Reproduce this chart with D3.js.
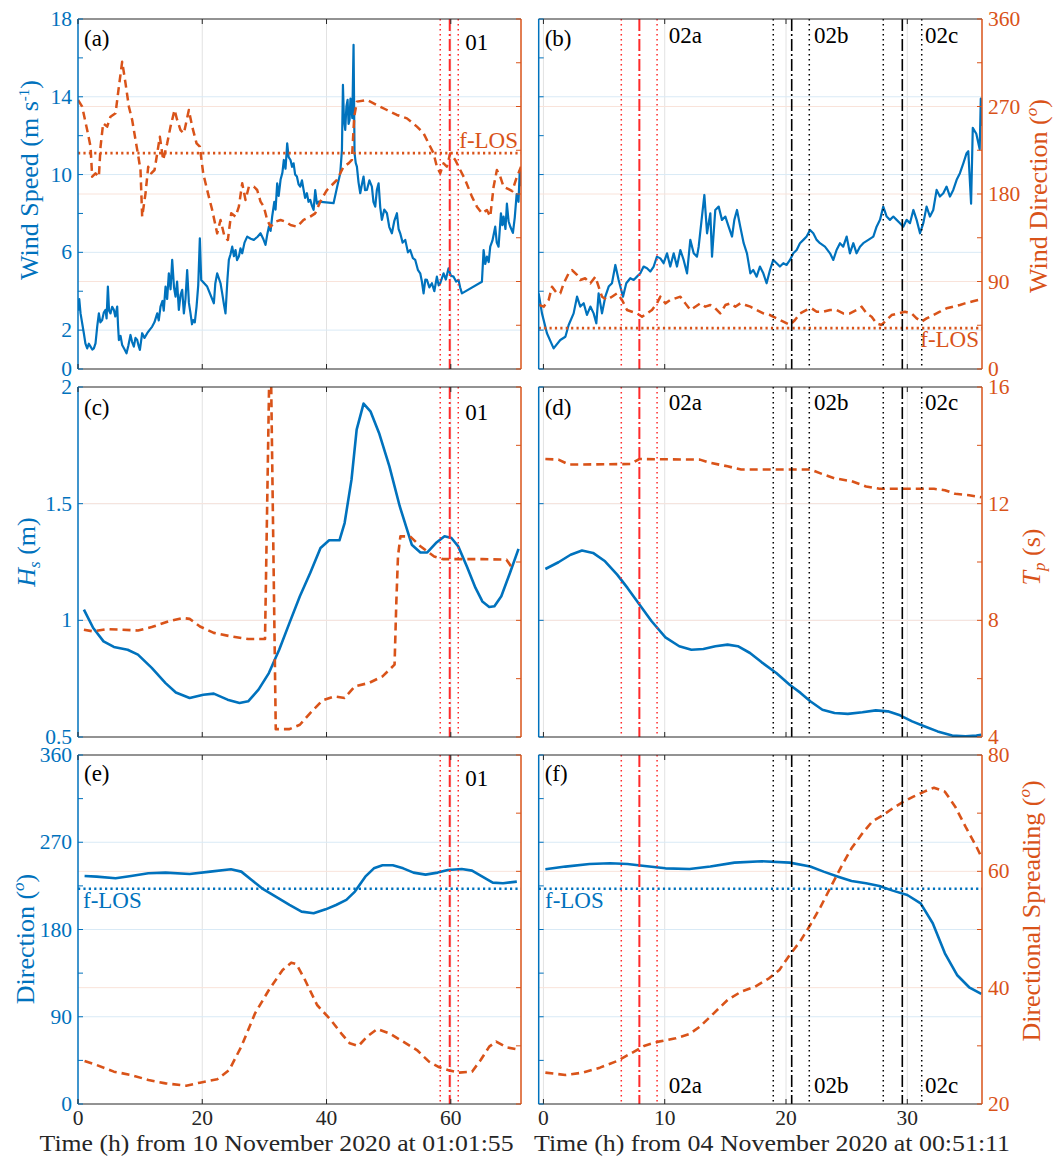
<!DOCTYPE html>
<html><head><meta charset="utf-8">
<script src="https://cdn.jsdelivr.net/npm/d3@7"></script>
<style>
body{margin:0;background:#fff;}
</style></head><body>
<svg id="chart" width="1062" height="1157"></svg>
<script>
// ---------------- DATA ----------------
// Panel (a): wind speed (m/s) and wind direction (deg) vs time (h) from 10 Nov 2020 01:01:55
const windSpeedLeft = [[0,3.0],[0.2,3.6],[0.41,2.86],[0.7,2.3],[0.94,1.84],[1.2,1.3],[1.48,1.06],[1.75,1.3],[2.02,1.15],[2.3,1.0],[2.55,1.06],[2.82,1.32],[3.1,2.2],[3.36,2.86],[3.6,2.4],[3.89,2.52],[4.15,2.9],[4.43,3.04],[4.6,2.6],[4.81,4.24],[5.0,3.0],[5.23,2.86],[5.5,3.2],[5.77,3.04],[6.0,2.7],[6.31,3.21],[6.45,2.2],[6.58,1.49],[6.85,1.7],[7.11,1.23],[7.5,1.0],[7.81,0.81],[8.1,1.2],[8.45,1.75],[8.7,1.4],[8.99,1.15],[9.25,1.6],[9.53,1.49],[9.75,1.2],[9.96,0.98],[10.33,1.84],[10.7,1.6],[11.14,1.84],[11.5,2.0],[11.94,2.18],[12.3,2.4],[12.75,2.86],[13.0,2.5],[13.28,3.21],[13.6,3.5],[13.8,3.0],[14.09,4.24],[14.35,3.6],[14.62,4.92],[14.9,4.1],[15.16,5.61],[15.45,4.2],[15.7,3.72],[15.95,4.5],[16.23,3.04],[16.5,3.8],[16.77,4.07],[17.04,2.86],[17.3,3.6],[17.57,5.09],[17.85,3.4],[18.11,2.86],[18.35,2.3],[18.54,2.52],[18.8,2.4],[19.08,3.21],[19.35,4.3],[19.61,6.72],[19.83,4.58],[20.79,4.24],[21.87,3.38],[22.1,4.4],[22.4,4.92],[22.94,4.41],[23.21,3.89],[23.5,3.3],[23.74,2.86],[24.05,4.6],[24.28,5.61],[24.55,5.9],[24.82,6.29],[25.1,5.8],[25.35,6.12],[25.6,5.6],[25.89,5.78],[26.15,6.2],[26.43,5.95],[26.8,6.5],[27.23,6.81],[27.8,6.7],[28.3,6.64],[28.9,6.8],[29.38,6.98],[29.8,6.7],[30.18,6.38],[30.45,6.9],[30.72,7.32],[31.0,7.1],[31.25,7.84],[31.6,8.6],[31.8,8.2],[32.06,9.55],[32.3,8.9],[32.6,9.73],[32.9,10.1],[33.13,10.75],[33.4,10.3],[33.67,11.61],[33.9,10.9],[34.2,10.75],[34.45,10.4],[34.7,10.58],[34.95,10.0],[35.23,9.9],[35.5,9.5],[35.77,9.38],[36.05,9.7],[36.31,9.21],[36.55,8.8],[36.84,9.04],[37.1,8.6],[37.38,8.7],[37.65,8.4],[37.92,8.18],[38.18,9.2],[38.45,8.5],[38.72,8.61],[41.13,8.53],[41.8,9.5],[42.21,10.07],[42.48,11.27],[42.64,14.61],[42.8,12.9],[43.01,12.3],[43.2,13.5],[43.39,13.84],[43.55,12.6],[43.71,12.81],[43.85,13.9],[43.98,13.5],[44.15,12.9],[44.35,16.67],[44.51,11.1],[44.7,10.6],[44.89,10.41],[45.15,9.6],[45.43,9.04],[45.7,9.5],[45.96,9.9],[46.2,9.2],[46.5,9.21],[46.9,9.7],[47.3,9.38],[47.55,8.6],[47.84,8.35],[48.1,9.2],[48.38,9.55],[48.65,8.3],[48.91,7.67],[49.3,8.2],[49.72,8.01],[50.1,7.3],[50.52,6.98],[50.9,7.6],[51.33,8.01],[51.6,7.2],[51.86,6.98],[52.25,6.5],[52.67,6.64],[53.1,6.0],[53.47,6.12],[53.9,5.7],[54.28,5.61],[54.7,5.1],[55.08,4.92],[55.35,4.5],[55.62,3.89],[55.9,4.6],[56.16,4.58],[56.55,4.2],[56.96,4.41],[57.35,4.0],[57.76,4.75],[58.05,4.3],[58.3,4.41],[58.6,4.7],[58.84,4.92],[59.2,4.6],[59.64,5.18],[60.0,4.8],[60.45,4.75],[60.85,4.5],[61.25,4.58],[61.5,4.2],[61.79,3.89],[65.01,4.49],[65.28,6.12],[65.55,5.4],[65.81,5.78],[66.1,5.5],[66.35,6.29],[66.7,6.6],[67.15,7.32],[67.4,6.5],[67.69,6.29],[68.07,8.01],[68.3,7.4],[68.5,7.84],[68.8,7.2],[69.03,8.5],[69.3,7.6],[69.6,7.3],[70.0,7.0],[70.3,7.8],[70.6,9.0],[70.9,8.6],[71.1,10.2],[71.3,9.4]];
const windDirLeft = [[0,276.7],[0.67,269.8],[1.48,245.8],[2.02,228.7],[2.28,197.8],[2.82,201.3],[3.36,197.8],[3.63,228.7],[4.05,252.7],[4.7,249.3],[5.23,259.5],[6.04,263],[6.58,290.4],[7.11,316.1],[7.65,293.8],[8.19,269.8],[8.72,256.1],[9.26,235.5],[9.63,221.8],[10.06,204.7],[10.33,156.7],[10.87,180.7],[11.3,208.1],[11.78,201.3],[12.32,204.7],[12.75,221.8],[13.17,239],[13.71,215],[14.36,232.1],[14.89,249.3],[15.54,266.4],[15.96,256.1],[16.5,245.8],[17.04,242.4],[17.84,266.4],[18.38,249.3],[19.08,232.1],[19.61,228.7],[20.15,201.3],[20.79,184.1],[21.6,163.5],[22.4,139.5],[22.94,153.3],[23.58,136.1],[24.12,132.7],[24.66,160.1],[25.35,156.7],[25.89,167],[26.43,191],[26.96,173.8],[27.5,187.5],[28.3,187.5],[28.84,184.1],[29.38,172.1],[29.91,167],[30.45,153.3],[30.99,146.4],[31.79,151.5],[32.6,153.3],[33.4,151.5],[34.2,148.1],[35.23,146.4],[36.31,153.3],[37.38,156.7],[38.18,160.1],[38.99,172.1],[40.06,184.1],[41.67,194.4],[42.74,208.1],[43.55,211.5],[44.08,215],[44.46,259.5],[44.89,275],[46.5,276.7],[48.11,271.5],[49.72,266.4],[51.33,261.3],[52.94,257.8],[54.55,249.3],[55.62,242.4],[56.42,232.1],[57.23,221.8],[57.76,208.1],[58.3,201.3],[58.84,211.5],[59.37,208.1],[59.91,221.8],[60.72,215],[61.52,204.7],[62.33,194.4],[63.4,177.3],[64.2,167],[65.01,160.1],[65.81,163.5],[66.35,156.7],[66.89,187.5],[67.42,204.7],[67.96,197.8],[68.5,187.5],[69.3,185],[69.9,183],[70.5,195],[71.3,208]];

// Panel (b): wind speed and direction vs time (h) from 04 Nov 2020 00:51:11
const windSpeedRight = [[-0.39,3.89],[-0.12,2.86],[0.29,1.84],[0.84,1.06],[1.39,1.49],[1.81,1.66],[2.08,2.26],[2.49,2.86],[2.77,3.72],[3.04,3.21],[3.32,3.38],[3.59,2.78],[3.87,3.21],[4.14,2.86],[4.36,2.35],[4.55,3.89],[4.83,2.86],[5.1,3.72],[5.38,4.24],[5.65,4.41],[5.93,5.35],[6.2,4.58],[6.56,3.72],[6.83,4.41],[7.16,4.67],[7.44,4.58],[7.71,4.75],[7.99,4.92],[8.26,5.27],[8.54,5.18],[8.81,5.01],[9.09,5.27],[9.36,5.78],[9.64,5.69],[9.91,5.44],[10.19,5.95],[10.46,5.27],[10.74,5.95],[11.01,5.27],[11.29,6.12],[11.56,5.61],[11.84,4.92],[12.11,6.64],[12.39,5.95],[12.66,5.78],[12.8,6.29],[13.07,7.84],[13.27,8.95],[13.49,6.98],[13.76,8.01],[13.9,5.78],[14.17,8.18],[14.45,8.35],[14.72,7.67],[15.0,7.84],[15.27,7.32],[15.55,6.81],[15.74,7.67],[15.96,8.18],[16.23,7.32],[16.51,6.47],[16.78,5.95],[17.06,4.92],[17.3,5.09],[17.58,4.75],[17.85,5.27],[18.13,4.92],[18.4,4.41],[18.68,5.09],[18.95,5.61],[19.23,5.44],[19.5,5.27],[19.78,5.44],[20.05,5.35],[20.33,5.61],[20.6,5.95],[20.88,6.12],[21.15,6.47],[21.43,6.64],[21.7,6.81],[21.98,7.15],[22.25,6.98],[22.53,6.64],[22.8,6.47],[23.21,6.29],[23.63,5.95],[23.9,5.61],[24.17,6.12],[24.45,6.47],[24.72,6.29],[25.0,6.81],[25.27,5.95],[25.55,6.47],[25.82,5.95],[26.1,6.29],[26.37,6.47],[26.79,6.64],[27.2,6.81],[27.47,7.32],[27.75,7.67],[28.02,8.35],[28.3,7.84],[28.57,7.67],[28.85,7.84],[29.12,7.67],[29.4,7.5],[29.67,7.32],[29.95,7.67],[30.22,7.5],[30.5,8.18],[30.77,7.67],[31.05,6.98],[31.32,7.5],[31.59,8.35],[31.87,7.84],[32.14,8.18],[32.42,9.21],[32.69,8.87],[32.97,9.04],[33.24,9.38],[33.52,8.87],[33.79,9.21],[34.07,9.73],[34.34,10.07],[34.62,10.58],[34.89,11.1],[35.03,11.2],[35.26,8.5],[35.4,12.4],[35.69,12.1],[35.97,11.3],[36.06,13.9],[36.16,12.5]];
const windDirRight = [[-0.39,66],[0.02,64.1],[0.43,71.0],[0.71,84.7],[1.12,77.8],[1.39,77.8],[1.67,88.1],[2.08,98.4],[2.36,101.8],[2.77,96.7],[3.04,91.5],[3.45,93.3],[3.87,88.1],[4.28,94.9],[4.55,84.7],[4.83,74.4],[5.24,71.0],[5.65,74.4],[6.07,77.8],[6.48,71.0],[6.89,60.7],[7.3,58.9],[7.71,57.2],[8.13,53.8],[8.54,57.2],[8.95,60.7],[9.36,67.5],[9.64,74.4],[10.05,67.5],[10.46,71.0],[10.87,72.7],[11.29,74.4],[11.7,67.5],[12.11,60.7],[12.52,64.1],[12.94,67.5],[13.35,64.1],[13.76,65.8],[14.17,62.4],[14.58,57.2],[15.0,65.8],[15.41,67.5],[15.82,64.1],[16.23,67.5],[16.65,65.8],[17.06,64.1],[17.58,60.7],[18.13,57.2],[18.68,55.5],[19.23,52.1],[19.78,48.7],[20.33,45.3],[20.74,50.4],[21.15,57.2],[21.7,60.7],[22.11,62.4],[22.53,58.9],[23.08,58.9],[23.63,60.7],[24.17,60.7],[24.72,57.2],[25.27,57.2],[25.82,60.7],[26.24,64.1],[26.65,57.2],[27.06,53.8],[27.47,46.9],[27.88,45.3],[28.3,50.4],[28.71,55.5],[29.26,57.2],[29.81,58.9],[30.36,57.2],[30.77,52.1],[31.18,48.7],[31.59,52.1],[32.14,55.5],[32.69,58.9],[33.24,62.4],[33.79,64.1],[34.34,65.8],[34.75,67.5],[35.5,70],[36.16,72]];

// Panel (c): Hs (m) and Tp (s)
const hsLeft = [[0.95,1.046],[2.45,0.967],[4.11,0.91],[5.77,0.886],[7.99,0.874],[9.65,0.853],[11.87,0.796],[14.09,0.731],[15.75,0.691],[17.97,0.667],[20.18,0.681],[21.85,0.686],[24.07,0.66],[26.0,0.646],[27.39,0.653],[29.05,0.703],[30.72,0.774],[32.38,0.874],[34.04,0.989],[35.71,1.103],[37.37,1.203],[39.03,1.31],[40.42,1.343],[42.08,1.343],[42.91,1.417],[44.02,1.603],[44.85,1.817],[45.96,1.929],[47.07,1.896],[48.45,1.803],[50.12,1.66],[51.78,1.489],[53.72,1.324],[55.11,1.291],[56.22,1.291],[57.6,1.331],[58.99,1.36],[60.1,1.353],[61.2,1.317],[62.59,1.231],[63.98,1.139],[65.08,1.081],[66.19,1.057],[67.02,1.06],[68.13,1.103],[69.52,1.203],[70.9,1.306]];
const tpLeft = [[0.95,7.68],[2.45,7.62],[4.66,7.7],[6.88,7.68],[9.65,7.65],[11.87,7.77],[14.64,7.97],[16.86,8.08],[17.97,8.05],[19.63,7.79],[21.85,7.57],[24.62,7.45],[27.39,7.36],[30.1,7.36],[30.94,18.5],[31.83,4.27],[34.04,4.27],[35.71,4.42],[37.37,4.82],[39.31,5.25],[41.25,5.39],[42.91,5.34],[44.57,5.74],[46.79,5.85],[49.01,6.08],[50.95,6.48],[51.23,8.59],[51.5,10.19],[51.89,10.88],[53.44,10.88],[55.11,10.54],[57.32,10.19],[58.71,10.1],[65.08,10.1],[68.96,10.08],[70.07,9.74]];

// Panel (d)
const hsRight = [[0.16,1.22],[1.24,1.249],[2.24,1.281],[3.18,1.299],[4.09,1.289],[5.08,1.253],[6.08,1.196],[6.93,1.139],[7.93,1.067],[8.92,0.996],[10.06,0.927],[11.2,0.889],[12.2,0.874],[13.19,0.877],[14.18,0.889],[15.18,0.896],[16.03,0.889],[17.03,0.86],[18.0,0.82],[19.2,0.774],[20.3,0.724],[21.2,0.689],[22.0,0.653],[23.0,0.617],[24.0,0.603],[25.1,0.599],[26.3,0.606],[27.4,0.614],[28.4,0.61],[29.4,0.593],[30.4,0.567],[31.4,0.546],[32.5,0.524],[33.7,0.506],[34.8,0.503],[35.7,0.506],[36.1,0.51]];
const tpRight = [[0.16,13.53],[1.24,13.51],[2.1,13.34],[7.2,13.36],[7.9,13.53],[12.9,13.51],[13.76,13.4],[15.18,13.28],[16.3,13.17],[22.0,13.17],[22.9,13.03],[24.0,12.87],[25.4,12.77],[26.6,12.59],[27.7,12.51],[32.2,12.51],[33.1,12.46],[33.95,12.34],[35.1,12.29],[36.1,12.22]];

// Panel (e): mean wave direction (deg) and directional spreading (deg)
const dirLeft = [[1.06,235.2],[3.0,234.5],[6.05,232.8],[8.54,235.2],[11.32,238],[14.09,238.7],[17.97,237.3],[21.29,239.7],[24.62,242.1],[26.28,239.7],[27.95,231.1],[29.61,222.5],[31.83,213.9],[34.04,205.3],[35.98,198.4],[37.92,196.7],[39.86,200.8],[41.53,205.3],[43.19,210.5],[44.57,219.1],[46.24,234.5],[47.62,243.1],[49.01,246.2],[50.67,246.2],[52.34,243.1],[54.0,238.7],[55.94,236.6],[57.88,238.7],[59.54,241.4],[61.76,242.4],[63.42,240.7],[65.08,234.5],[66.75,228.4],[68.41,227.7],[70.63,229.4]];
const spreadLeft = [[1.06,27.39],[3.0,26.7],[5.77,25.56],[8.54,24.99],[11.32,24.13],[14.09,23.55],[17.41,23.15],[19.63,23.67],[22.4,24.24],[24.34,25.85],[26.28,29.86],[28.5,35.59],[30.72,39.6],[32.93,43.04],[34.32,44.3],[35.15,44.07],[36.54,41.32],[38.48,37.02],[40.7,34.44],[42.36,32.15],[43.74,30.43],[45.13,29.97],[46.52,31.58],[48.18,32.89],[50.12,32.15],[52.34,30.72],[54.55,29.28],[56.49,27.28],[58.16,26.3],[59.54,25.85],[61.2,25.39],[63.42,25.56],[64.81,27.56],[66.19,29.86],[67.3,30.72],[68.96,29.74],[70.63,29.4]];

// Panel (f)
const dirRight = [[0.16,242.1],[1.81,244.9],[3.8,247.6],[5.5,248.3],[6.93,247.6],[8.35,245.5],[10.06,243.1],[12.05,242.4],[13.76,244.9],[15.75,249],[18.0,250.4],[20.3,249],[22.0,244.9],[23.1,239.7],[24.3,234.5],[25.4,230],[26.6,227.7],[27.7,224.9],[28.8,220.1],[30.0,215.6],[31.1,207],[32.1,186.4],[33.1,155.4],[34.1,133.1],[35.1,120.4],[36.1,113.5]];
const spreadRight = [[0.16,25.39],[1.81,24.99],[3.23,25.39],[4.66,26.25],[6.08,27.39],[7.22,28.71],[8.35,30.03],[9.49,30.72],[10.9,31.29],[12.05,32.03],[12.9,33.3],[14.04,35.59],[15.18,37.88],[16.3,39.31],[17.45,40.17],[18.6,41.6],[19.45,43.04],[20.3,45.62],[21.15,47.91],[22.0,50.77],[22.86,53.93],[23.7,57.36],[24.56,60.8],[25.4,63.95],[26.3,66.53],[27.1,68.54],[28.0,69.68],[28.8,70.83],[29.7,71.98],[30.5,72.84],[31.4,73.7],[32.2,74.38],[33.1,73.7],[33.95,71.12],[34.8,67.68],[35.7,64.24],[36.1,62.52]];

// reference (f-LOS) levels
const flosWindDirLeft = 222, flosWindDirRight = 42, flosWaveDir = 222;
// event markers (hours)
const eventLeft = {dotted:[58.3,61.2], dashdot:[59.83], tag:[62.33,"01"]};
const eventRightRed = {dotted:[6.42,9.37], dashdot:[7.91], tag:[10.33,"02a"]};
const eventRightBlack = [{dotted:[18.95,21.92], dashdot:[20.47], tag:[22.31,"02b"]},{dotted:[28.02,31.19], dashdot:[29.59], tag:[31.46,"02c"]}];
// tick values
const xTicksLeft = [0,20,40,60], xTicksRight = [0,10,20,30];
const wsTicks = [0,2,4,6,8,10,12,14,16,18], wsLabels = [0,2,6,10,14,18];
const deg45 = [0,45,90,135,180,225,270,315,360], degLabels = [0,90,180,270,360];
const hsTicks = [0.5,1,1.5,2], tpTicks = [4,6,8,10,12,14,16], tpLabels = [4,8,12,16];
const spTicks = [20,30,40,50,60,70,80], spLabels = [20,40,60,80];

// ---------------- DRAW ----------------
const FONT="Liberation Serif";
const BLUE="#0072BD", ORANGE="#D95319", RED="#ff2a2a";
const BLUEGRID="#d9eaf6", ORGRID="#f9e3da", XGRID="#e2e2e2", DARK="#262626";
const svg=d3.select("#chart");
const xL=d3.scaleLinear().domain([0,71.3]).range([78,521]);
const xR=d3.scaleLinear().domain([-0.39,36.16]).range([538.7,982]);
const rows=[[19,369],[387,737],[755,1104]];
const FS=21.5, TFS=26, LFS=23;
const txt=(sel)=>sel.append("text").attr("font-family",FONT);

let clipN=0;
function panel(p){
  const [y0,y1]=p.row, x=p.x, [x0,x1]=x.range();
  const yL=d3.scaleLinear().domain(p.yL.domain).range([y1,y0]);
  const yR=d3.scaleLinear().domain(p.yR.domain).range([y1,y0]);
  const g=svg.append("g");
  const cid="cp"+(clipN++);
  svg.append("clipPath").attr("id",cid).append("rect").attr("x",x0).attr("y",y0).attr("width",x1-x0).attr("height",y1-y0);
  g.selectAll(null).data(p.xGrid).join("line").attr("x1",d=>x(d)).attr("x2",d=>x(d)).attr("y1",y0).attr("y2",y1).attr("stroke",XGRID).attr("stroke-width",1);
  g.selectAll(null).data(p.yL.grid).join("line").attr("x1",x0).attr("x2",x1).attr("y1",d=>yL(d)).attr("y2",d=>yL(d)).attr("stroke",BLUEGRID).attr("stroke-width",1);
  g.selectAll(null).data(p.yR.grid).join("line").attr("x1",x0).attr("x2",x1).attr("y1",d=>yR(d)).attr("y2",d=>yR(d)).attr("stroke",ORGRID).attr("stroke-width",1);
  const cg=g.append("g").attr("clip-path",`url(#${cid})`);
  const line=(ys)=>d3.line().x(d=>x(d[0])).y(d=>ys(d[1]));
  p.series.forEach(s=>{
    const ys=s.axis==="L"?yL:yR;
    cg.append("path").datum(s.data).attr("d",line(ys)).attr("fill","none")
      .attr("stroke",s.color).attr("stroke-width",s.w).attr("stroke-dasharray",s.dash||null)
      .attr("stroke-linejoin","round");
  });
  if(p.flos){
    const ys=p.flos.axis==="L"?yL:yR;
    cg.append("line").attr("x1",x0).attr("x2",x1).attr("y1",ys(p.flos.v)).attr("y2",ys(p.flos.v))
      .attr("stroke",p.flos.color).attr("stroke-width",2.6).attr("stroke-dasharray","2.2,3.2");
    txt(g).attr("x",p.flos.tx).attr("y",p.flos.ty).attr("text-anchor",p.flos.anchor)
      .attr("fill",p.flos.color).attr("font-size",LFS).text("f-LOS");
  }
  p.events.forEach(ev=>{
    ev.dotted.forEach(t=>g.append("line").attr("x1",x(t)).attr("x2",x(t)).attr("y1",y0).attr("y2",y1)
      .attr("stroke",ev.color).attr("stroke-width",1.5).attr("stroke-dasharray","1.5,3.5"));
    ev.dashdot.forEach(t=>g.append("line").attr("x1",x(t)).attr("x2",x(t)).attr("y1",y0).attr("y2",y1)
      .attr("stroke",ev.color).attr("stroke-width",ev.color===RED?2:1.6).attr("stroke-dasharray","12,3,2,3"));
    txt(g).attr("x",x(ev.tag[0])).attr("y",p.tagY).attr("font-size",LFS).attr("fill","#000").text(ev.tag[1]);
  });
  g.append("line").attr("x1",x0).attr("x2",x1).attr("y1",y0).attr("y2",y0).attr("stroke",DARK).attr("stroke-width",1);
  g.append("line").attr("x1",x0).attr("x2",x1).attr("y1",y1).attr("y2",y1).attr("stroke",DARK).attr("stroke-width",1);
  g.append("line").attr("x1",x0).attr("x2",x0).attr("y1",y0).attr("y2",y1).attr("stroke",BLUE).attr("stroke-width",1.5);
  g.append("line").attr("x1",x1).attr("x2",x1).attr("y1",y0).attr("y2",y1).attr("stroke",ORANGE).attr("stroke-width",1.5);
  p.xTicks.forEach(t=>{
    g.append("line").attr("x1",x(t)).attr("x2",x(t)).attr("y1",y1).attr("y2",y1-5).attr("stroke",DARK);
    g.append("line").attr("x1",x(t)).attr("x2",x(t)).attr("y1",y0).attr("y2",y0+5).attr("stroke",DARK);
  });
  if(p.xLabels){
    p.xTicks.forEach(d=>txt(g).attr("x",x(d)).attr("y",y1+21).attr("text-anchor","middle")
      .attr("font-size",FS).attr("fill",DARK).text(d));
  }
  p.yL.ticks.forEach(v=>g.append("line").attr("x1",x0).attr("x2",x0+5).attr("y1",yL(v)).attr("y2",yL(v)).attr("stroke",BLUE));
  p.yR.ticks.forEach(v=>g.append("line").attr("x1",x1).attr("x2",x1-5).attr("y1",yR(v)).attr("y2",yR(v)).attr("stroke",ORANGE));
  if(p.side==="L"){
    p.yL.labels.forEach(d=>txt(g).attr("x",x0-6).attr("y",yL(d)+7).attr("text-anchor","end")
      .attr("font-size",FS).attr("fill",BLUE).text(d));
  } else {
    p.yR.labels.forEach(d=>txt(g).attr("x",x1+6).attr("y",yR(d)+7).attr("text-anchor","start")
      .attr("font-size",FS).attr("fill",ORANGE).text(d));
  }
  txt(g).attr("x",x0+6).attr("y",p.letterY).attr("font-size",LFS).attr("fill","#000").text(p.letter);
  if(p.title){
    const t=txt(svg).attr("transform",`translate(${p.title.x},${p.title.y}) rotate(-90)`)
      .attr("text-anchor","middle").attr("font-size",TFS).attr("fill",p.title.color);
    p.title.parts.forEach(pt=>{
      const ts=t.append("tspan").text(pt.s);
      if(pt.it) ts.attr("font-style","italic");
      if(pt.fs) ts.attr("font-size",pt.fs);
      if(pt.dy) ts.attr("dy",pt.dy);
    });
  }
}

const redL={color:RED,dotted:eventLeft.dotted,dashdot:eventLeft.dashdot,tag:eventLeft.tag};
const redR={color:RED,dotted:eventRightRed.dotted,dashdot:eventRightRed.dashdot,tag:eventRightRed.tag};
const blkR=eventRightBlack.map(e=>({color:"#000",dotted:e.dotted,dashdot:e.dashdot,tag:e.tag}));

const wsAx={domain:[0,18],ticks:wsTicks,labels:wsLabels,grid:[2,6,10,14]};
const wdAx={domain:[0,360],ticks:deg45,labels:degLabels,grid:[90,180,270]};
const hsAx={domain:[0.5,2],ticks:hsTicks,labels:hsTicks,grid:[1,1.5]};
const tpAx={domain:[4,16],ticks:tpTicks,labels:tpLabels,grid:[8,12]};
const spAx={domain:[20,80],ticks:spTicks,labels:spLabels,grid:[40,60]};
const supO=(before)=>[{s:before},{s:"o",it:true,fs:17,dy:-10},{s:")",dy:10}];

panel({row:rows[0],x:xL,xTicks:xTicksLeft,xGrid:[20,40,60],xLabels:false,side:"L",yL:wsAx,yR:wdAx,
  series:[{data:windSpeedLeft,axis:"L",color:BLUE,w:2.2},{data:windDirLeft,axis:"R",color:ORANGE,w:2.5,dash:"8,5"}],
  flos:{v:flosWindDirLeft,axis:"R",color:ORANGE,tx:518,ty:148,anchor:"end"},
  events:[redL],tagY:50,letter:"(a)",letterY:46,
  title:{x:38,y:180,color:BLUE,parts:[{s:"Wind Speed (m s"},{s:"-1",fs:15,dy:-9},{s:")",dy:9}]}});
panel({row:rows[0],x:xR,xTicks:xTicksRight,xGrid:[0,10,20,30],xLabels:false,side:"R",yL:wsAx,yR:wdAx,
  series:[{data:windSpeedRight,axis:"L",color:BLUE,w:2.2},{data:windDirRight,axis:"R",color:ORANGE,w:2.5,dash:"8,5"}],
  flos:{v:flosWindDirRight,axis:"R",color:ORANGE,tx:979,ty:347,anchor:"end"},
  events:[redR,...blkR],tagY:43,letter:"(b)",letterY:46,
  title:{x:1047,y:196,color:ORANGE,parts:supO("Wind Direction (")}});
panel({row:rows[1],x:xL,xTicks:xTicksLeft,xGrid:[20,40,60],xLabels:false,side:"L",yL:hsAx,yR:tpAx,
  series:[{data:hsLeft,axis:"L",color:BLUE,w:2.6},{data:tpLeft,axis:"R",color:ORANGE,w:2.6,dash:"8,5"}],
  events:[redL],tagY:420,letter:"(c)",letterY:415,
  title:{x:35,y:552,color:BLUE,parts:[{s:"H",it:true},{s:"s",it:true,fs:17,dy:5},{s:" (m)",dy:-5}]}});
panel({row:rows[1],x:xR,xTicks:xTicksRight,xGrid:[0,10,20,30],xLabels:false,side:"R",yL:hsAx,yR:tpAx,
  series:[{data:hsRight,axis:"L",color:BLUE,w:2.6},{data:tpRight,axis:"R",color:ORANGE,w:2.6,dash:"8,5"}],
  events:[redR,...blkR],tagY:410,letter:"(d)",letterY:415,
  title:{x:1040,y:557,color:ORANGE,parts:[{s:"T",it:true},{s:"p",it:true,fs:17,dy:5},{s:" (s)",dy:-5}]}});
panel({row:rows[2],x:xL,xTicks:xTicksLeft,xGrid:[20,40,60],xLabels:true,side:"L",yL:wdAx,yR:spAx,
  series:[{data:dirLeft,axis:"L",color:BLUE,w:2.6},{data:spreadLeft,axis:"R",color:ORANGE,w:2.6,dash:"8,5"}],
  flos:{v:flosWaveDir,axis:"L",color:BLUE,tx:83,ty:908,anchor:"start"},
  events:[redL],tagY:786,letter:"(e)",letterY:781,
  title:{x:34,y:939,color:BLUE,parts:supO("Direction (")}});
panel({row:rows[2],x:xR,xTicks:xTicksRight,xGrid:[0,10,20,30],xLabels:true,side:"R",yL:wdAx,yR:spAx,
  series:[{data:dirRight,axis:"L",color:BLUE,w:2.6},{data:spreadRight,axis:"R",color:ORANGE,w:2.6,dash:"8,5"}],
  flos:{v:flosWaveDir,axis:"L",color:BLUE,tx:545,ty:908,anchor:"start"},
  events:[redR,...blkR],tagY:1093,letter:"(f)",letterY:781,
  title:{x:1040,y:911,color:ORANGE,parts:supO("Directional Spreading (")}});

txt(svg).attr("x",276.6).attr("y",1151).attr("text-anchor","middle").attr("font-size",24).attr("fill",DARK)
  .attr("textLength",474).attr("lengthAdjust","spacingAndGlyphs").text("Time (h) from 10 November 2020 at 01:01:55");
txt(svg).attr("x",772).attr("y",1151).attr("text-anchor","middle").attr("font-size",24).attr("fill",DARK)
  .attr("textLength",476).attr("lengthAdjust","spacingAndGlyphs").text("Time (h) from 04 November 2020 at 00:51:11");
</script>
</body></html>
